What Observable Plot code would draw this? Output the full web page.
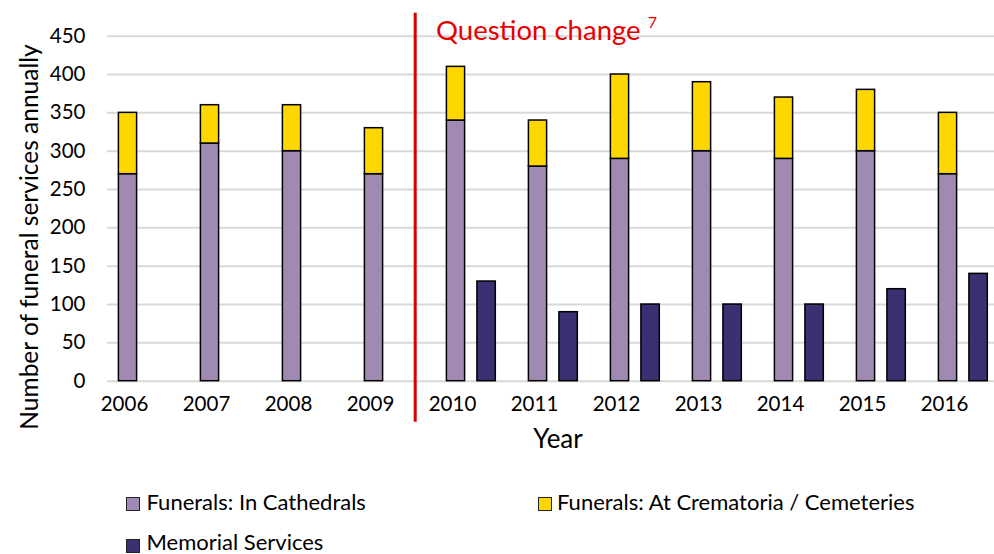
<!DOCTYPE html>
<html>
<head>
<meta charset="utf-8">
<script src="https://cdn.jsdelivr.net/npm/d3@7"></script>
<script src="https://cdn.jsdelivr.net/npm/@observablehq/plot@0.6"></script>
<style>
  html, body { margin: 0; padding: 0; background: #fff; }
  #wrap { position: relative; width: 994px; height: 554px; font-family: Lato, "Open Sans", sans-serif; color: #000; overflow: hidden; }
  #chart { position: absolute; left: 0; top: 0; }
  .abs { position: absolute; white-space: nowrap; line-height: 1; }
  .sw { position: absolute; width: 14px; height: 14px; box-sizing: border-box; border: 1.5px solid #222; }
</style>
</head>
<body>
<div id="wrap">
  <div id="chart"></div>
  <div class="abs" id="ylabel" style="left:29px; top:236.5px; font-size:24.5px; transform: translate(-50%,-50%) rotate(-90deg);">Number of funeral services annually</div>
  <div class="abs" id="xlabel" style="left:558px; top:425px; font-size:26px; transform: translateX(-50%);">Year</div>
  <div class="abs" id="qc" style="left:436px; top:16px; font-size:27.5px; color:#E80000;">Question change <span style="font-size:16px; position:relative; top:-12px;">7</span></div>
  <div id="legend"></div>
</div>
<script>
const years = [2006, 2007, 2008, 2009, 2010, 2011, 2012, 2013, 2014, 2015, 2016];
const cathedrals = [270, 310, 300, 270, 340, 280, 290, 300, 290, 300, 270];
const crematoria = [80, 50, 60, 60, 70, 60, 110, 90, 80, 80, 80];
const memorial = [null, null, null, null, 130, 90, 100, 100, 100, 120, 140];
const yTicks = [0, 50, 100, 150, 200, 250, 300, 350, 400, 450];
const seriesNames = ["Funerals: In Cathedrals", "Funerals: At Crematoria / Cemeteries", "Memorial Services"];
const seriesColors = ["#A08AB4", "#FFD700", "#3A3072"];

const stackRows = years.flatMap((y, i) => [
  {year: String(y), series: seriesNames[0], value: cathedrals[i]},
  {year: String(y), series: seriesNames[1], value: crematoria[i]}
]);
const memRows = years.map((y, i) => ({year: String(y), value: memorial[i]})).filter(d => d.value != null);

const plot = Plot.plot({
  width: 994,
  height: 460,
  marginTop: 35.7,
  marginBottom: 79.3,
  marginLeft: 107,
  marginRight: 0,
  style: {fontFamily: "Lato, 'Open Sans', sans-serif", fontSize: "20.5px", color: "#000", background: "transparent", overflow: "visible"},
  x: {type: "band", domain: years.map(String), range: [82.3, 985.1], padding: 0, tickSize: 0, tickPadding: 15, label: null},
  y: {domain: [0, 450], ticks: yTicks, tickSize: 0, tickPadding: 22, label: null},
  color: {domain: seriesNames, range: seriesColors},
  marks: [
    Plot.ruleY(yTicks, {stroke: "#D9D9D9", strokeWidth: 2}),
    Plot.barY(stackRows, {x: "year", y: "value", fill: "series", stroke: "#000", strokeWidth: 1.5, insetLeft: 35.4, insetRight: 28.4}),
    Plot.barY(memRows, {x: "year", y: "value", fill: seriesColors[2], stroke: "#000", strokeWidth: 1.5, insetLeft: 65.9, insetRight: -2.3}),
    Plot.ruleX(["2010"], {x: d => d, dx: -37.3, stroke: "#D40000", strokeWidth: 3, insetTop: -23, insetBottom: -41})
  ]
});
document.getElementById("chart").appendChild(plot);

// legend
const legendPos = [
  {sw: [126, 497], tx: [146.5, 490.5]},
  {sw: [538, 497], tx: [557, 490.5]},
  {sw: [126, 539], tx: [146.5, 531]}
];
const legend = document.getElementById("legend");
seriesNames.forEach((name, i) => {
  const sw = document.createElement("div");
  sw.className = "sw";
  sw.style.left = legendPos[i].sw[0] + "px";
  sw.style.top = legendPos[i].sw[1] + "px";
  sw.style.background = seriesColors[i];
  legend.appendChild(sw);
  const t = document.createElement("div");
  t.className = "abs";
  t.style.left = legendPos[i].tx[0] + "px";
  t.style.top = legendPos[i].tx[1] + "px";
  t.style.fontSize = "22px";
  t.textContent = name;
  legend.appendChild(t);
});
</script>
</body>
</html>
